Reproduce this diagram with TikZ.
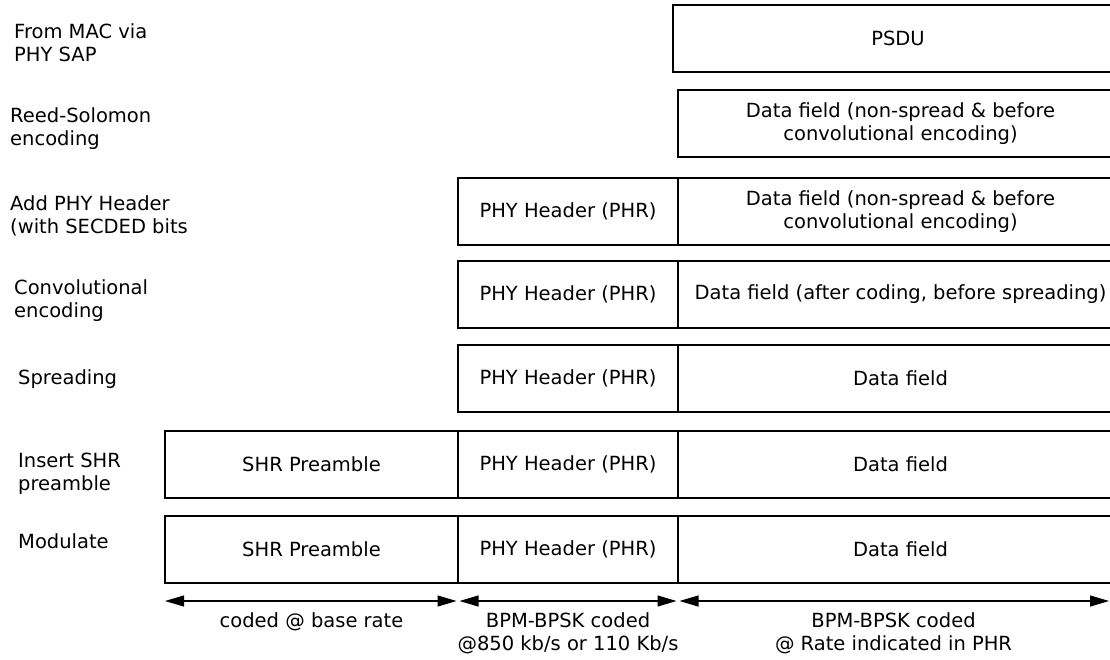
\documentclass[tikz,border=0pt]{standalone}
\usepackage{fontspec}
\setmainfont{DejaVu Sans}
\usepackage{tikz}
\usetikzlibrary{arrows.meta,calc,positioning}
\newcommand{\diagfont}{\fontsize{19.5}{23}\selectfont}
\newcommand{\phrrow}[3]{%
  \node[field,anchor=north west,minimum width=220pt] (#1phr) at (458,#2) {PHY Header (PHR)};%
  \node[field,minimum width=445pt,right=0pt of #1phr] (#1data) {#3};%
}

\begin{document}
\begin{tikzpicture}[x=1pt,y=-1pt,
  every node/.style={font=\diagfont},
  field/.style={draw,line width=1.1pt,outer sep=0pt,inner sep=0pt,minimum height=67pt,align=center},
  steplabel/.style={anchor=west,align=left,inner sep=0pt},
  span/.style={{Triangle[length=19pt,width=11pt]}-{Triangle[length=19pt,width=11pt]},line width=1.1pt}]
  \useasboundingbox (0,0) rectangle (1110,660);
  \clip (0,0) rectangle (1110,660);
  % processing steps
  \node[steplabel] (lmac) at (14,43) {From MAC via\\PHY SAP};
  \node[steplabel] (lrs) at (10,129) {Reed-Solomon\\encoding};
  \node[steplabel] (laddphr) at (10,216) {Add PHY Header\\(with SECDED bits};
  \node[steplabel] (lconv) at (14,301) {Convolutional\\encoding};
  \node[steplabel] (lspread) at (18,379) {Spreading};
  \node[steplabel] (lshr) at (18,474) {Insert SHR\\preamble};
  \node[steplabel] (lmod) at (18,541) {Modulate};
  % frames
  \node[field,anchor=north west,minimum width=450pt] (psdu) at (673,5) {PSDU};
  \node[field,anchor=north west,minimum width=445pt] (rsdata) at (678,90) {Data field (non-spread \& before\\convolutional encoding)};
  \phrrow{add}{178}{Data field (non-spread \& before\\convolutional encoding)}
  \phrrow{conv}{261}{Data field (after coding, before spreading)}
  \phrrow{spread}{345}{Data field}
  \node[field,anchor=north west,minimum width=293pt] (insshr) at (165,431) {SHR Preamble};
  \node[field,minimum width=220pt,right=0pt of insshr] (insphr) {PHY Header (PHR)};
  \node[field,minimum width=445pt,right=0pt of insphr] (insdata) {Data field};
  \node[field,anchor=north west,minimum width=293pt] (modshr) at (165,516) {SHR Preamble};
  \node[field,minimum width=220pt,right=0pt of modshr] (modphr) {PHY Header (PHR)};
  \node[field,minimum width=445pt,right=0pt of modphr] (moddata) {Data field};
  % rates
  \path ([yshift=-18pt]modshr.south west) coordinate (t0)
        ([yshift=-18pt]modshr.south east) coordinate (t1)
        ([yshift=-18pt]modphr.south east) coordinate (t2)
        (1109,601) coordinate (t3);
  \draw[span,shorten >=1.5pt] (t0) -- (t1);
  \draw[span,shorten <=1.5pt,shorten >=1.5pt] (t1) -- (t2);
  \draw[span,shorten <=1.5pt] (t2) -- (t3);
  \node[below=11pt,inner sep=0pt] (basetxt) at ($(t0)!0.5!(t1)$) {coded @ base rate};
  \node[below=11pt,inner sep=0pt,align=center] (phrtxt) at ($(t1)!0.5!(t2)$) {BPM-BPSK coded\\@850 kb/s or 110 Kb/s};
  \node[below=11pt,inner sep=0pt,align=center] (datatxt) at ($(t2)!0.5!(t3)$) {BPM-BPSK coded\\@ Rate indicated in PHR};
\end{tikzpicture}
\end{document}
